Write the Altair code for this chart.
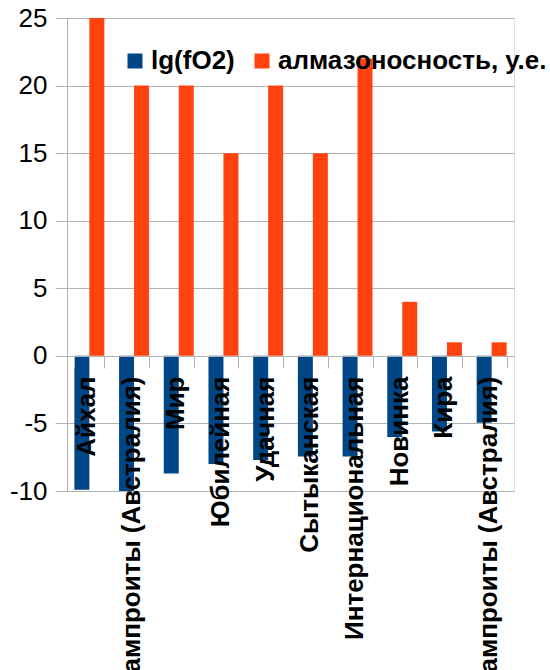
import json
import altair as alt
import pandas as pd

categories = [
    "Айхал",
    "Лампроиты (Австралия)",
    "Мир",
    "Юбилейная",
    "Удачная",
    "Сытыканская",
    "Интернациональная",
    "Новинка",
    "Кира",
    "Лампроиты (Австралия)",
]
series_names = ["lg(fO2)", "алмазоносность, у.е."]
lg_fo2 = [-9.9, -10.0, -8.7, -8.0, -7.7, -7.45, -7.45, -6.0, -5.6, -4.95]
diamond = [25, 20, 20, 15, 20, 15, 22, 4, 1, 1]
y_ticks = [-10, -5, 0, 5, 10, 15, 20, 25]
colors = ["#004586", "#ff420e"]

rows = []
for i, (a, b) in enumerate(zip(lg_fo2, diamond)):
    rows.append({"idx": i, "series": series_names[0], "value": a})
    rows.append({"idx": i, "series": series_names[1], "value": b})
df = pd.DataFrame(rows)

label_expr = json.dumps(categories, ensure_ascii=False) + "[datum.value]"
FONT = "Liberation Sans"
GRID = "#b3b3b3"

chart = (
    alt.Chart(df)
    .mark_bar()
    .encode(
        x=alt.X(
            "idx:O",
            sort=list(range(len(categories))),
            scale=alt.Scale(paddingInner=0.33, paddingOuter=0.165),
            axis=alt.Axis(
                title=None,
                orient="bottom",
                offset=-135,
                zindex=1,
                labelExpr=label_expr,
                labelAngle=270,
                labelFont=FONT,
                labelFontSize=26,
                labelFontWeight="bold",
                labelColor="black",
                labelPadding=8,
                labelOffset=-3,
                labelLimit=1000,
                labelOverlap=False,
                tickBand="extent",
                tickSize=12,
                tickColor=GRID,
                domainColor=GRID,
                grid=False,
            ),
        ),
        xOffset=alt.XOffset("series:N", sort=series_names, scale=alt.Scale(domain=series_names)),
        y=alt.Y(
            "value:Q",
            scale=alt.Scale(domain=[-10, 25], nice=False, zero=False),
            axis=alt.Axis(
                title=None,
                values=y_ticks,
                labelExpr="'' + datum.value",
                labelFont=FONT,
                labelFontSize=26,
                labelColor="black",
                labelPadding=8,
                tickSize=12,
                tickColor=GRID,
                domainColor=GRID,
                gridColor=GRID,
            ),
        ),
        color=alt.Color(
            "series:N",
            scale=alt.Scale(domain=series_names, range=colors),
            legend=alt.Legend(
                title=None,
                orient="none",
                legendX=55,
                legendY=30,
                direction="horizontal",
                symbolType="square",
                symbolSize=225,
                symbolStrokeWidth=0,
                labelFont=FONT,
                labelFontSize=26,
                labelFontWeight="bold",
                labelColor="black",
                labelOffset=3,
                labelLimit=1000,
                columnPadding=14,
                padding=0,
            ),
        ),
    )
    .properties(
        width=447,
        height=473,
        autosize=alt.AutoSizeParams(type="none"),
        padding={"left": 67, "top": 18, "right": 36, "bottom": 179},
    )
    .configure_view(stroke=GRID, strokeWidth=1)
    .configure(background="white")
)

chart.save("out.html", embed_options={"renderer": "svg", "actions": False})
